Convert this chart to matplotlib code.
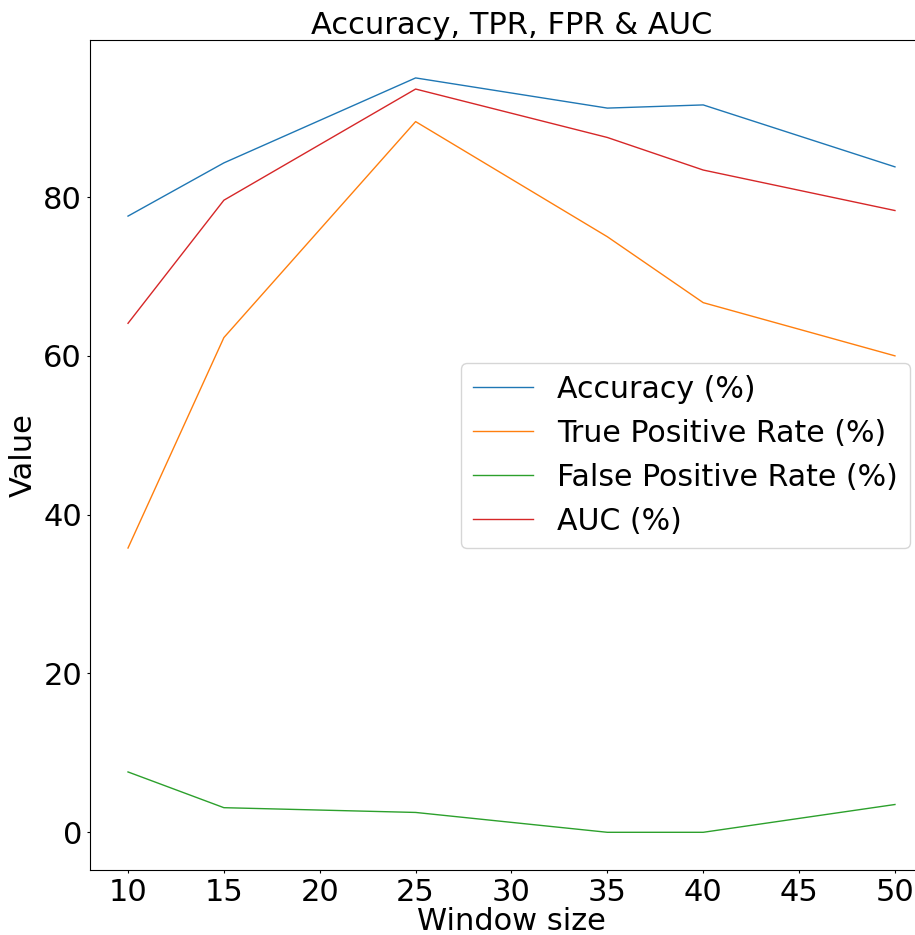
import matplotlib
matplotlib.use("Agg")
import matplotlib.pyplot as plt

window_sizes = [10, 15, 25, 35, 40, 50]
accuracy = [77.6, 84.3, 95.0, 91.2, 91.6, 83.8]
tpr = [35.8, 62.3, 89.5, 75.0, 66.7, 60.0]
fpr = [7.6, 3.1, 2.5, 0.0, 0.0, 3.5]
auc = [64.1, 79.6, 93.6, 87.5, 83.4, 78.3]

fig = plt.figure(figsize=(9.15, 9.35), dpi=100)
ax = fig.add_axes([0.098, 0.0695, 0.922, 0.8875])

ax.plot(window_sizes, accuracy, linewidth=1, label="Accuracy (%)")
ax.plot(window_sizes, tpr, linewidth=1, label="True Positive Rate (%)")
ax.plot(window_sizes, fpr, linewidth=1, label="False Positive Rate (%)")
ax.plot(window_sizes, auc, linewidth=1, label="AUC (%)")

ax.set_title("Accuracy, TPR, FPR & AUC", fontsize=22, pad=4)
ax.set_xlabel("Window size", fontsize=22, labelpad=0)
ax.set_ylabel("Value", fontsize=22, labelpad=4)
ax.tick_params(labelsize=22, length=2.5, pad=3)
ax.set_xticks([10, 15, 20, 25, 30, 35, 40, 45, 50])
ax.legend(fontsize=21.6, loc="center right", bbox_to_anchor=(0.972, 0.5),
          borderaxespad=0)

fig.savefig("out.png", dpi=100)
